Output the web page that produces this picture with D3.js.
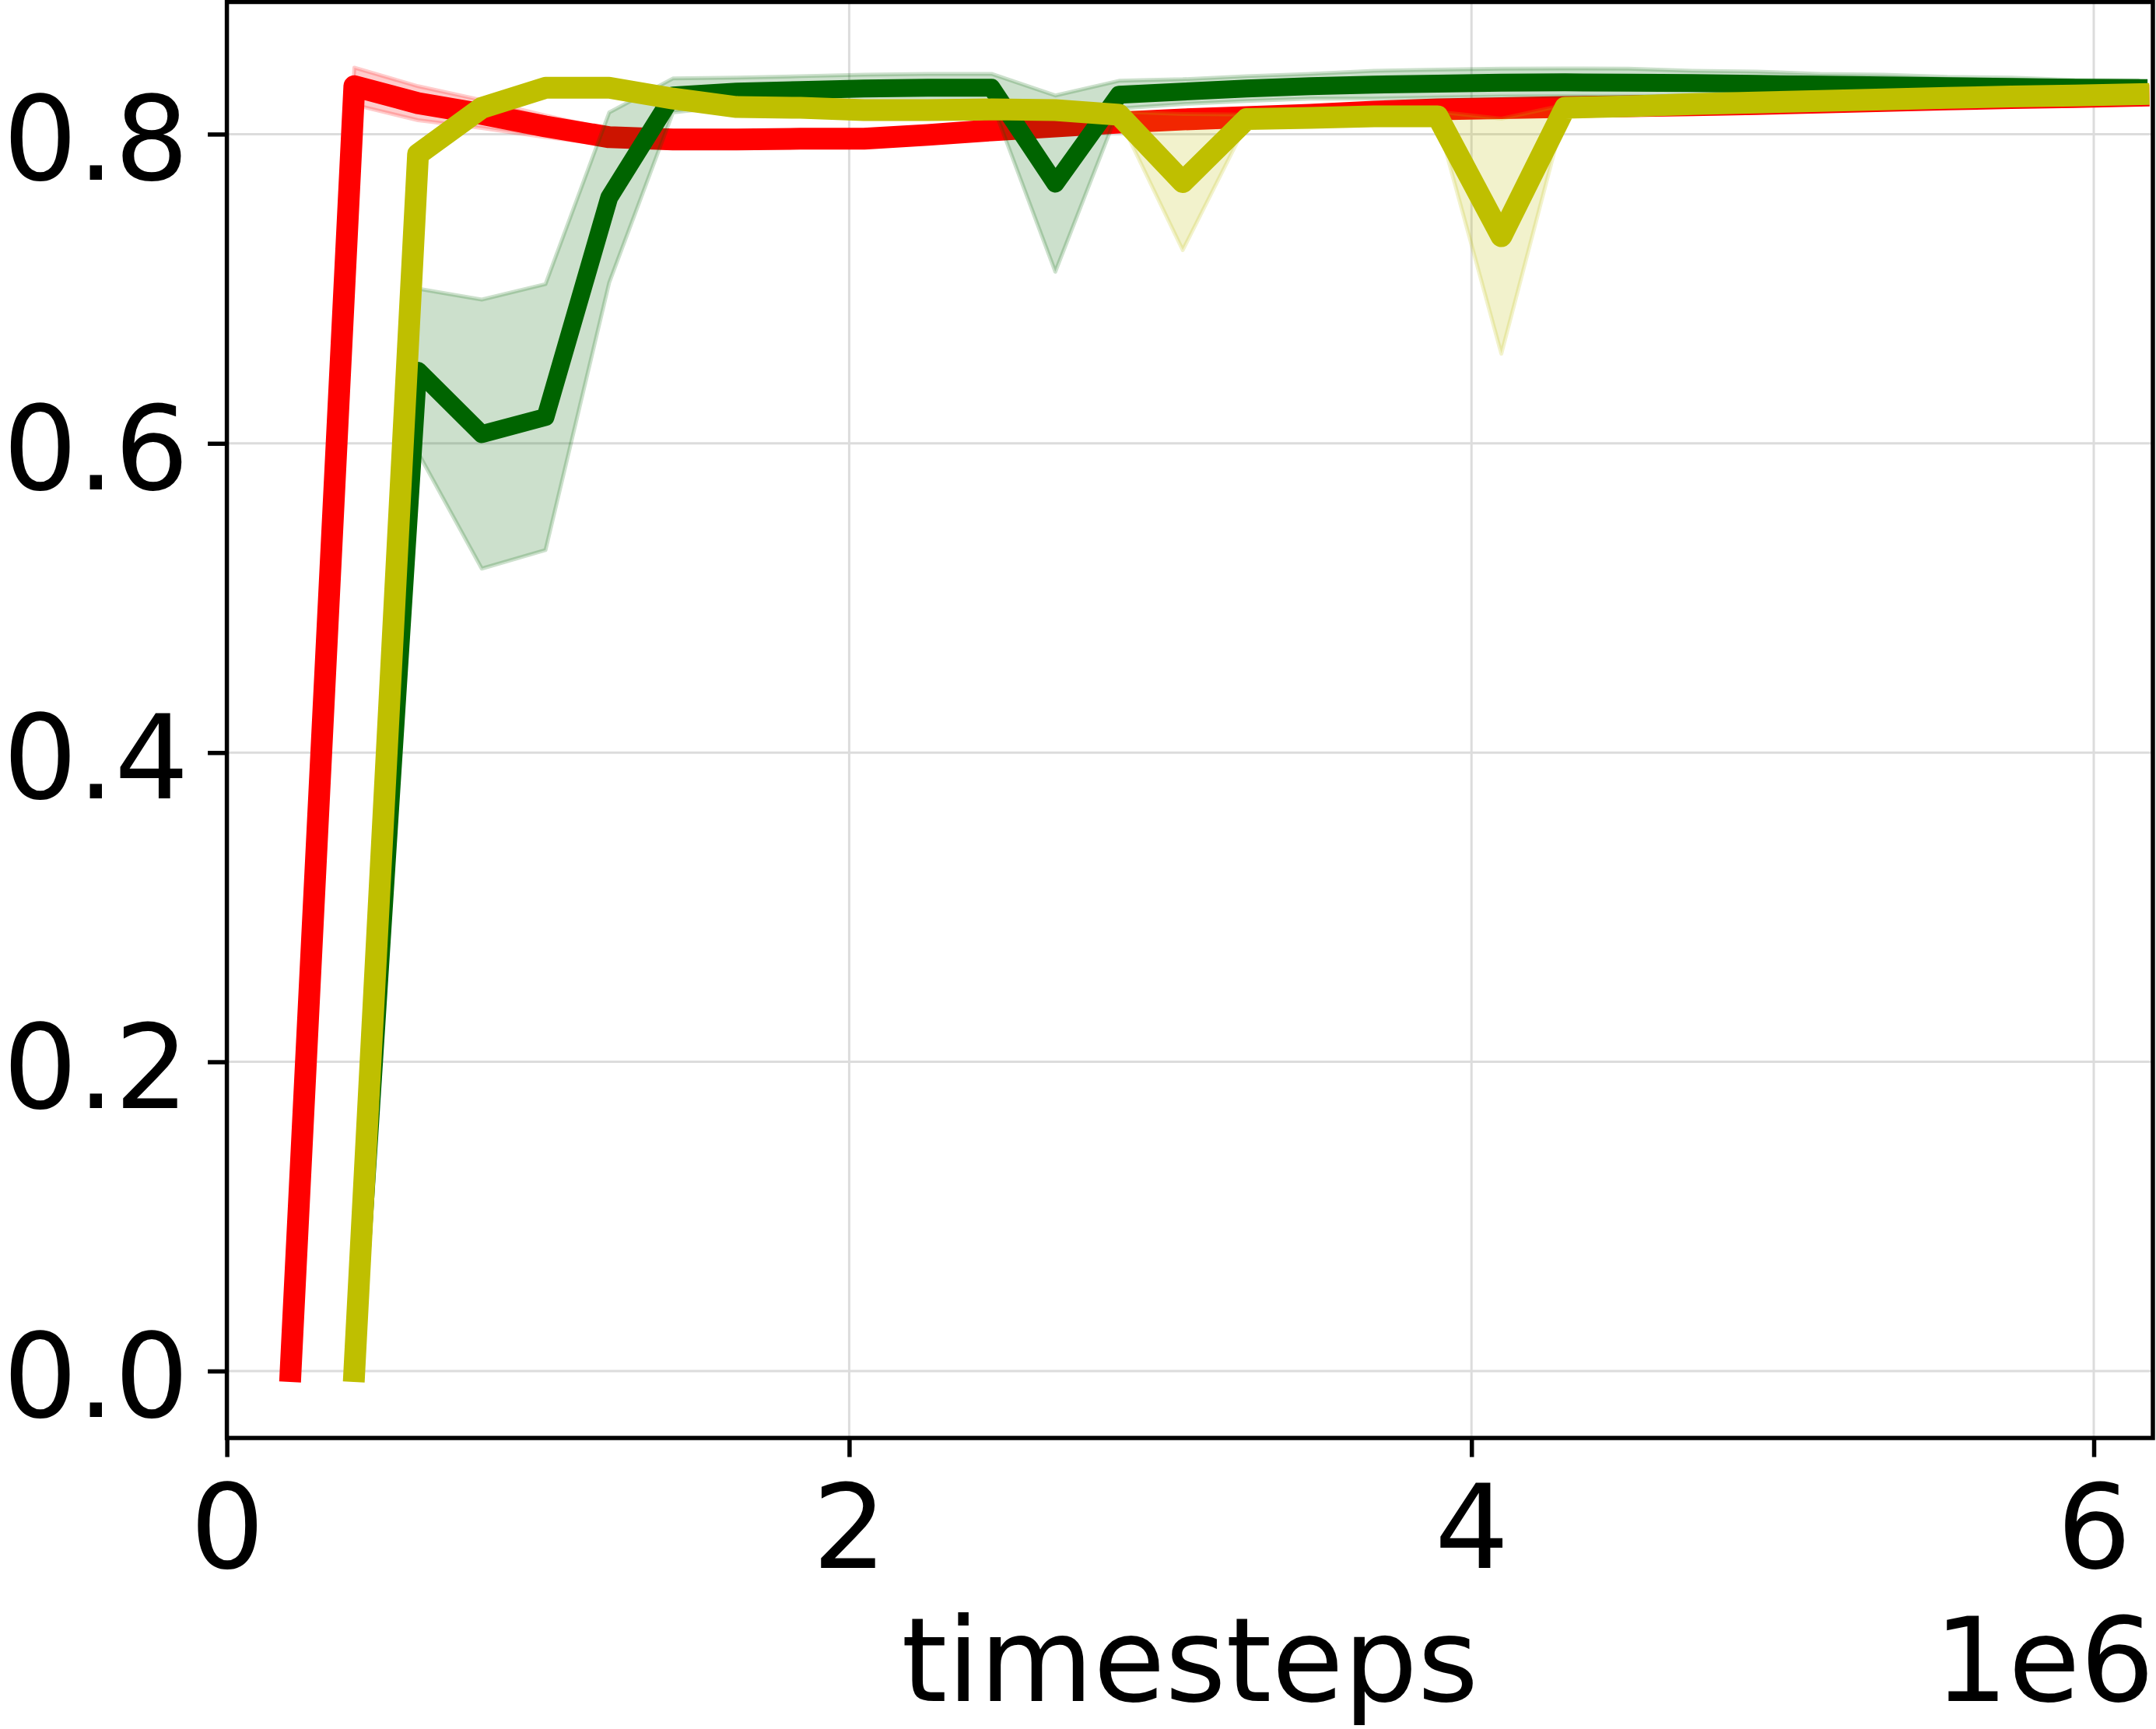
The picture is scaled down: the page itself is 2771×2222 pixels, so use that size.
<!DOCTYPE html>
<html>
<head>
<meta charset="utf-8">
<script src="https://cdn.jsdelivr.net/npm/d3@7"></script>
<style>
  body { margin: 0; background: #fff; }
  svg { display: block; }
</style>
</head>
<body>
<script>
// timesteps of each evaluation
var steps = [204800, 409600, 614400, 819200, 1024000, 1228800, 1433600, 1638400, 1843200, 2048000,
             2252800, 2457600, 2662400, 2867200, 3072000, 3276800, 3481600, 3686400, 3891200, 4096000,
             4300800, 4505600, 4710400, 4915200, 5120000, 5324800, 5529600, 5734400, 5939200, 6144000];

// red series (starts at the first step)
var redMean = [0.0, 0.831, 0.820, 0.813, 0.805, 0.798, 0.7965, 0.7965, 0.797, 0.797,
               0.7995, 0.8025, 0.805, 0.8075, 0.8095, 0.811, 0.8125, 0.8145, 0.816, 0.8168,
               0.8175, 0.818, 0.8187, 0.8195, 0.8205, 0.8215, 0.8225, 0.8233, 0.824, 0.8248];
var redStd = [0, 0.012, 0.011, 0.009, 0.007, 0.005, 0.003, 0.003, 0.003, 0.003,
              0.003, 0.003, 0.003, 0.003, 0.003, 0.003, 0.003, 0.003, 0.003, 0.002,
              0.002, 0.002, 0.002, 0.002, 0.002, 0.002, 0.002, 0.002, 0.002, 0.002];

// green series (starts at the second step)
var greenMean = [0.0, 0.647, 0.606, 0.617, 0.759, 0.825, 0.8275, 0.8285, 0.8295, 0.830,
                 0.830, 0.768, 0.8255, 0.8275, 0.8295, 0.831, 0.832, 0.8327, 0.8333, 0.8335,
                 0.8333, 0.833, 0.8325, 0.832, 0.8315, 0.831, 0.8305, 0.830, 0.8298];
var greenStd = [0, 0.053, 0.087, 0.086, 0.055, 0.011, 0.009, 0.009, 0.009, 0.009,
                0.009, 0.057, 0.009, 0.008, 0.008, 0.008, 0.009, 0.009, 0.009, 0.009,
                0.009, 0.008, 0.008, 0.007, 0.007, 0.006, 0.006, 0.005, 0.005];

// yellow series (starts at the second step)
var yellowMean = [0.0, 0.787, 0.817, 0.830, 0.830, 0.823, 0.8175, 0.817, 0.8155, 0.8155,
                  0.816, 0.8155, 0.8125, 0.769, 0.8097, 0.8105, 0.8115, 0.8115, 0.734, 0.817,
                  0.818, 0.8195, 0.8205, 0.8215, 0.8225, 0.8235, 0.8243, 0.825, 0.8258];
var yellowStd = [0, 0.002, 0.002, 0.002, 0.002, 0.002, 0.002, 0.002, 0.002, 0.002,
                 0.002, 0.002, 0.002, 0.044, 0.003, 0.003, 0.003, 0.003, 0.076, 0.002,
                 0.002, 0.002, 0.002, 0.002, 0.002, 0.002, 0.002, 0.002, 0.002];

var xTicks = [0, 2e6, 4e6, 6e6];
var yTicks = [0.0, 0.2, 0.4, 0.6, 0.8];

var W = 2771, H = 2222;
var plot = {left: 291.6, right: 2767, top: 2.5, bottom: 1848};
var font = "DejaVu Sans";
var fontSize = 150;

var xScale = d3.scaleLinear()
               .domain([0, 6.19e6])
               .range([plot.left, plot.right]);

var yScale = d3.scaleLinear()
               .domain([-0.0433, 0.8855])
               .range([plot.bottom, plot.top]);

var svg = d3.select("body")
            .append("svg")
            .attr("width", W)
            .attr("height", H);

svg.append("rect")
   .attr("width", W).attr("height", H)
   .attr("fill", "#fff");

//grid lines
var grid = svg.append("g").attr("class", "grid");
grid.selectAll("line.gx")
    .data(xTicks)
    .enter().append("line")
    .attr("x1", function(d){ return xScale(d); })
    .attr("x2", function(d){ return xScale(d); })
    .attr("y1", plot.top).attr("y2", plot.bottom)
    .attr("stroke", "#dcdcdc").attr("stroke-width", 3);
grid.selectAll("line.gy")
    .data(yTicks)
    .enter().append("line")
    .attr("y1", function(d){ return yScale(d); })
    .attr("y2", function(d){ return yScale(d); })
    .attr("x1", plot.left).attr("x2", plot.right)
    .attr("stroke", "#dcdcdc").attr("stroke-width", 3);

//one entry per series, drawn in this order
var series = [
  {x: steps, mean: redMean, std: redStd, color: "#ff0000", width: 28},
  {x: steps.slice(1), mean: greenMean, std: greenStd, color: "#006400", width: 23},
  {x: steps.slice(1), mean: yellowMean, std: yellowStd, color: "#bfbf00", width: 28}
];

svg.append("clipPath").attr("id", "clip")
   .append("rect")
   .attr("x", plot.left).attr("y", plot.top)
   .attr("width", plot.right - plot.left)
   .attr("height", plot.bottom - plot.top);

var body = svg.append("g").attr("clip-path", "url(#clip)");

series.forEach(function(s){
    var pts = s.x.map(function(x, i){ return [x, s.mean[i], s.std[i]]; });

    var area = d3.area()
                 .x(function(d){ return xScale(d[0]); })
                 .y0(function(d){ return yScale(d[1] - d[2]); })
                 .y1(function(d){ return yScale(d[1] + d[2]); });

    var line = d3.line()
                 .x(function(d){ return xScale(d[0]); })
                 .y(function(d){ return yScale(d[1]); });

    body.append("path")
        .attr("d", area(pts))
        .attr("fill", s.color).attr("fill-opacity", 0.2)
        .attr("stroke", s.color).attr("stroke-opacity", 0.2)
        .attr("stroke-width", 5)
        .attr("stroke-linejoin", "round");

    body.append("path")
        .attr("d", line(pts))
        .attr("fill", "none")
        .attr("stroke", s.color)
        .attr("stroke-width", s.width)
        .attr("stroke-linejoin", "round")
        .attr("stroke-linecap", "square");
});

//axes
var xAxis = d3.axisBottom(xScale)
              .tickValues(xTicks)
              .tickFormat(function(d){ return d / 1e6; })
              .tickSize(24.5)
              .tickSizeOuter(0);

var yAxis = d3.axisLeft(yScale)
              .tickValues(yTicks)
              .tickFormat(d3.format(".1f"))
              .tickSize(24.5)
              .tickPadding(24.5)
              .tickSizeOuter(0);

var gx = svg.append("g")
            .attr("transform", "translate(0," + plot.bottom + ")")
            .call(xAxis);
gx.select(".domain").remove();
gx.selectAll("line").attr("stroke", "#000").attr("stroke-width", 5.5);
gx.selectAll("text")
  .attr("y", 167).attr("dy", null)
  .attr("font-family", font).attr("font-size", fontSize).attr("fill", "#000");

var gy = svg.append("g")
            .attr("transform", "translate(" + plot.left + ",0)")
            .call(yAxis);
gy.select(".domain").remove();
gy.selectAll("line").attr("stroke", "#000").attr("stroke-width", 5.5);
gy.selectAll("text")
  .attr("dy", "0.39em")
  .attr("font-family", font).attr("font-size", fontSize).attr("fill", "#000");

//frame
svg.append("rect")
   .attr("x", plot.left).attr("y", plot.top)
   .attr("width", plot.right - plot.left)
   .attr("height", plot.bottom - plot.top)
   .attr("fill", "none")
   .attr("stroke", "#000").attr("stroke-width", 5.5);

//labels
svg.append("text")
   .attr("x", (plot.left + plot.right) / 2)
   .attr("y", 2186)
   .attr("text-anchor", "middle")
   .attr("font-family", font).attr("font-size", fontSize)
   .text("timesteps");

svg.append("text")
   .attr("x", 2769)
   .attr("y", 2186)
   .attr("text-anchor", "end")
   .attr("font-family", font).attr("font-size", fontSize)
   .text("1e6");
</script>
</body>
</html>
